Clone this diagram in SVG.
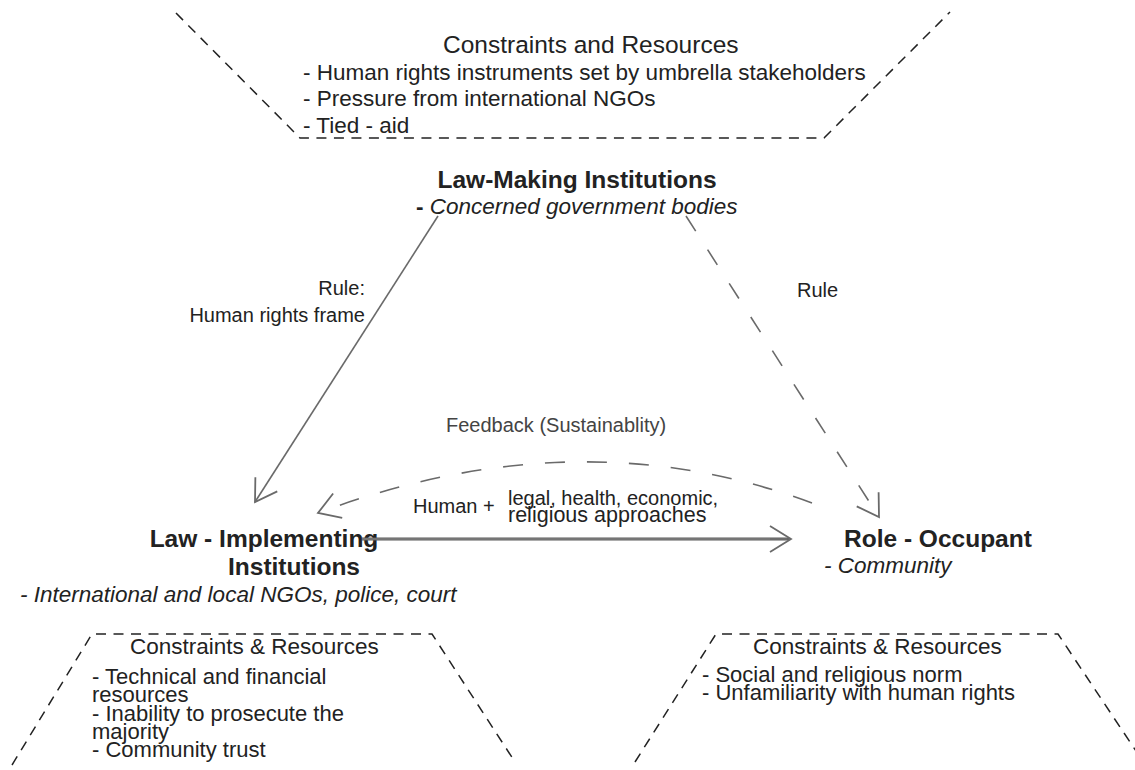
<svg xmlns="http://www.w3.org/2000/svg" width="1135" height="770" viewBox="0 0 1135 770">
<style>
  .t { font-family: "Liberation Sans", Arial, sans-serif; fill: #222; }
  .b { font-weight: bold; font-size: 24.5px; }
  .i { font-style: italic; font-size: 22.5px; }
  .l { font-size: 22.5px; }
  .s { font-size: 22px; }
  .lab { font-size: 20px; }
  .trap { fill: none; stroke: #222; stroke-width: 1.5; stroke-dasharray: 10 7.5; }
  .con { fill: none; stroke: #6a6a6a; stroke-width: 1.6; }
</style>
<defs>
  <marker id="open" markerWidth="30" markerHeight="30" refX="24" refY="15" orient="auto" markerUnits="userSpaceOnUse">
    <path d="M3,2 L24,15 L3,28" fill="none" stroke="#6a6a6a" stroke-width="1.8" stroke-dasharray="none"/>
  </marker>
</defs>
<rect width="1135" height="770" fill="#fff"/>

<g id="top-constraints">
  <path class="trap" d="M176,13 L300,138 L824,138 L950,12"/>
  <text class="t" x="443" y="53" font-size="24.5">Constraints and Resources</text>
  <text class="t l" x="303" y="80">- Human rights instruments set by umbrella stakeholders</text>
  <text class="t l" x="303" y="106">- Pressure from international NGOs</text>
  <text class="t l" x="303" y="133">- Tied - aid</text>
</g>

<g id="law-making">
  <text class="t b" x="577" y="188" text-anchor="middle">Law-Making Institutions</text>
  <text class="t i" x="416" y="214"><tspan font-style="normal" font-weight="bold">-</tspan> Concerned government bodies</text>
</g>

<g id="law-implementing">
  <text class="t b" x="264" y="547" text-anchor="middle">Law - Implementing</text>
  <text class="t b" x="294" y="575" text-anchor="middle">Institutions</text>
  <text class="t i" x="20" y="602">- International and local NGOs, police, court</text>
</g>

<g id="role-occupant">
  <text class="t b" x="844" y="547">Role - Occupant</text>
  <text class="t i" x="824" y="573">- Community</text>
</g>

<g id="bl-constraints">
  <path class="trap" d="M12,765 L92,634 L432,634 L515,762"/>
  <text class="t" x="130" y="654" font-size="22.5">Constraints &amp; Resources</text>
  <text class="t s" x="92" y="684">- Technical and financial</text>
  <text class="t s" x="92" y="702">resources</text>
  <text class="t s" x="92" y="720.5">- Inability to prosecute the</text>
  <text class="t s" x="92" y="738.5">majority</text>
  <text class="t s" x="92" y="757">- Community trust</text>
</g>

<g id="br-constraints">
  <path class="trap" d="M635,762 L716,634 L1058,634 L1150,772"/>
  <text class="t" x="753" y="654" font-size="22.5">Constraints &amp; Resources</text>
  <text class="t s" x="702" y="682">- Social and religious norm</text>
  <text class="t s" x="702" y="700">- Unfamiliarity with human rights</text>
</g>

<g id="connectors">
  <path class="con" d="M438,216 L255,502" marker-end="url(#open)"/>
  <path class="con" d="M686,216 L879,517" stroke-dasharray="18 22" marker-end="url(#open)"/>
  <path class="con" d="M812,503 Q578,416 318,513" stroke-dasharray="20 22" marker-end="url(#open)"/>
  <path d="M362,539 L789,539" fill="none" stroke="#5a5a5a" stroke-width="3"/>
  <path d="M362,539 L787,539" fill="none" stroke="#a0a0a0" stroke-width="0.8"/>
  <path class="con" d="M770,539 L791,539" marker-end="url(#open)" stroke="none"/>
  <text class="t lab" x="365" y="295" text-anchor="end">Rule:</text>
  <text class="t lab" x="365" y="322" text-anchor="end">Human rights frame</text>
  <text class="t lab" x="797" y="297">Rule</text>
  <text class="t lab" x="446" y="432" style="fill:#444">Feedback (Sustainablity)</text>
  <text class="t lab" x="413" y="513">Human +</text>
  <text class="t lab" x="508" y="505">legal, health, economic,</text>
  <text class="t" x="508" y="522" font-size="21.5">religious approaches</text>
</g>
</svg>
